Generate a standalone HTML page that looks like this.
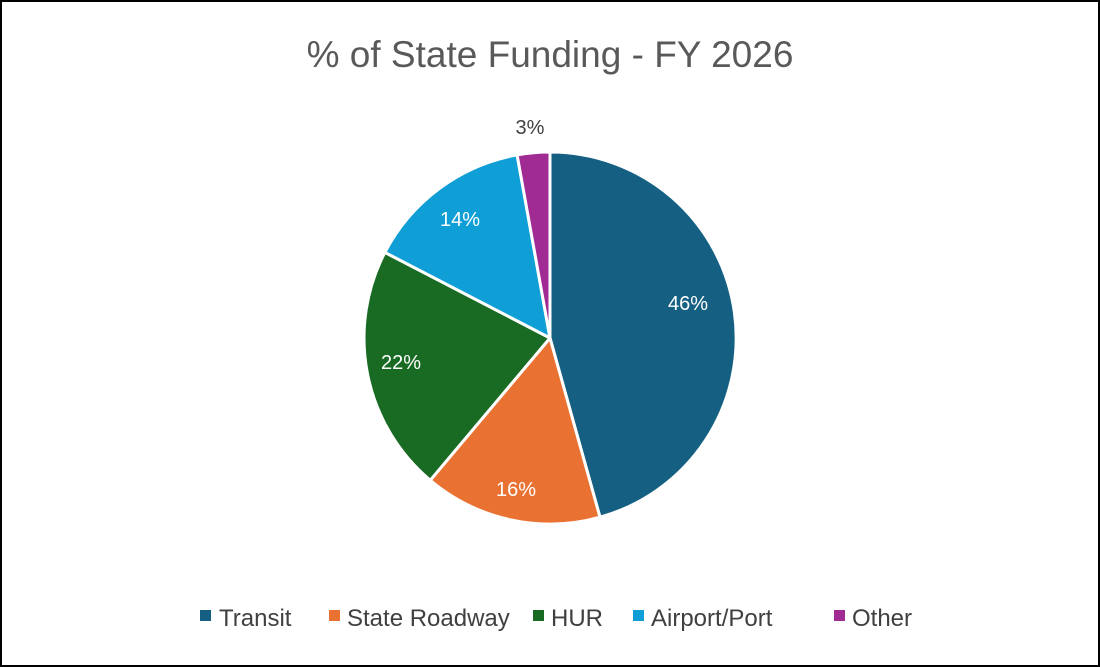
<!DOCTYPE html>
<html><head><style>
body{margin:0;background:#fff;}
.w{position:relative;width:1100px;height:667px;overflow:hidden;}
</style></head><body><div class="w">
<svg width="1100" height="667" xmlns="http://www.w3.org/2000/svg" font-family="Liberation Sans, sans-serif">
<rect x="1" y="1" width="1098" height="665" fill="#fff" stroke="#000" stroke-width="2"/>
<text x="550" y="67" text-anchor="middle" font-size="37" fill="#595959">% of State Funding - FY 2026</text>
<g stroke="#fff" stroke-width="3" stroke-linejoin="round">
<path d="M550,338 L550,152 A186,186 0 0 1 600,517.2 Z" fill="#156082"/>
<path d="M550,338 L600,517.2 A186,186 0 0 1 430.2,480.3 Z" fill="#E97132"/>
<path d="M550,338 L430.2,480.3 A186,186 0 0 1 384.9,252.4 Z" fill="#196B24"/>
<path d="M550,338 L384.9,252.4 A186,186 0 0 1 517.1,154.9 Z" fill="#0F9ED5"/>
<path d="M550,338 L517.1,154.9 A186,186 0 0 1 550,152 Z" fill="#A02B93"/>
</g>
<g font-size="20" fill="#fff" text-anchor="middle">
<text x="688" y="310">46%</text>
<text x="516" y="496">16%</text>
<text x="401" y="369">22%</text>
<text x="460" y="226">14%</text>
</g>
<text x="530" y="134" font-size="20" fill="#404040" text-anchor="middle">3%</text>
<g font-size="24" fill="#404040">
<rect x="200" y="610" width="11" height="11" fill="#156082"/><text x="219" y="626">Transit</text>
<rect x="329" y="610" width="11" height="11" fill="#E97132"/><text x="347" y="626">State Roadway</text>
<rect x="533" y="610" width="11" height="11" fill="#196B24"/><text x="551" y="626">HUR</text>
<rect x="633" y="610" width="11" height="11" fill="#0F9ED5"/><text x="651" y="626">Airport/Port</text>
<rect x="834" y="610" width="11" height="11" fill="#A02B93"/><text x="852" y="626">Other</text>
</g>
</svg>
</div></body></html>
